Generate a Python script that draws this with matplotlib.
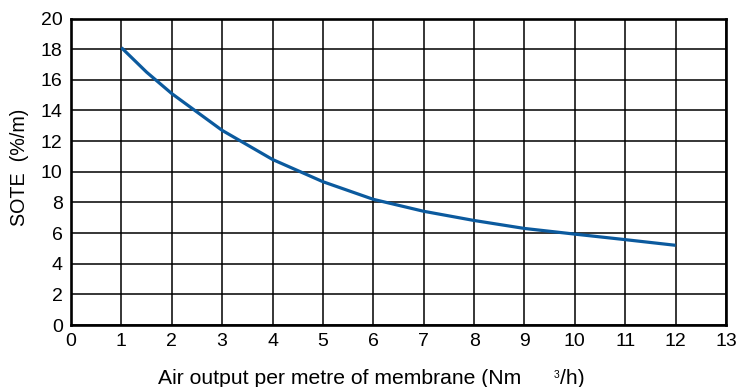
import matplotlib
matplotlib.use("Agg")
import matplotlib.pyplot as plt

plt.rcParams['font.family'] = ['Liberation Sans', 'DejaVu Sans']

air_output = [1, 1.5, 2, 3, 4, 5, 6, 7, 8, 9, 10, 11, 12]
sote = [18.1, 16.5, 15.1, 12.7, 10.8, 9.35, 8.2, 7.42, 6.82, 6.3, 5.93, 5.57, 5.2]
x_ticks = list(range(0, 14))
y_ticks = list(range(0, 21, 2))

W, H = 736, 387
fig = plt.figure(figsize=(W/100, H/100), dpi=100)
ax = fig.add_axes([71/W, 1-325/H, 655/W, (325-18.5)/H])

ax.plot(air_output, sote, color='#0b5a9e', lw=2.3, solid_capstyle='butt', solid_joinstyle='round', zorder=3)

ax.set_xlim(0, 13)
ax.set_ylim(0, 20)
ax.set_xticks(x_ticks)
ax.set_yticks(y_ticks)
ax.grid(True, color='black', lw=1.1)
ax.set_axisbelow(True)
for s in ax.spines.values():
    s.set_linewidth(1.9)
    s.set_color('black')
ax.tick_params(axis='both', length=0, labelsize=14, colors='black')
ax.tick_params(axis='x', pad=6)
ax.tick_params(axis='y', pad=6)

renderer = fig.canvas.get_renderer()

def fit(t, target_px):
    bb = t.get_window_extent(renderer)
    t.set_fontsize(t.get_fontsize() * target_px / bb.width)

fig.text(20/W, 1-167/H, 'SOTE  (%/m)', fontsize=14.2, rotation=90, ha='center', va='center')

xl1 = fig.text(158/W, 3/H, 'Air output per metre of membrane (Nm', fontsize=16, ha='left', va='baseline')
fit(xl1, 364)
fig.text(554/W, 9/H, '3', fontsize=7.5, ha='left', va='baseline')
fig.text(560/W, 3/H, '/h)', fontsize=xl1.get_fontsize(), ha='left', va='baseline')

fig.savefig('out.png', dpi=100)
